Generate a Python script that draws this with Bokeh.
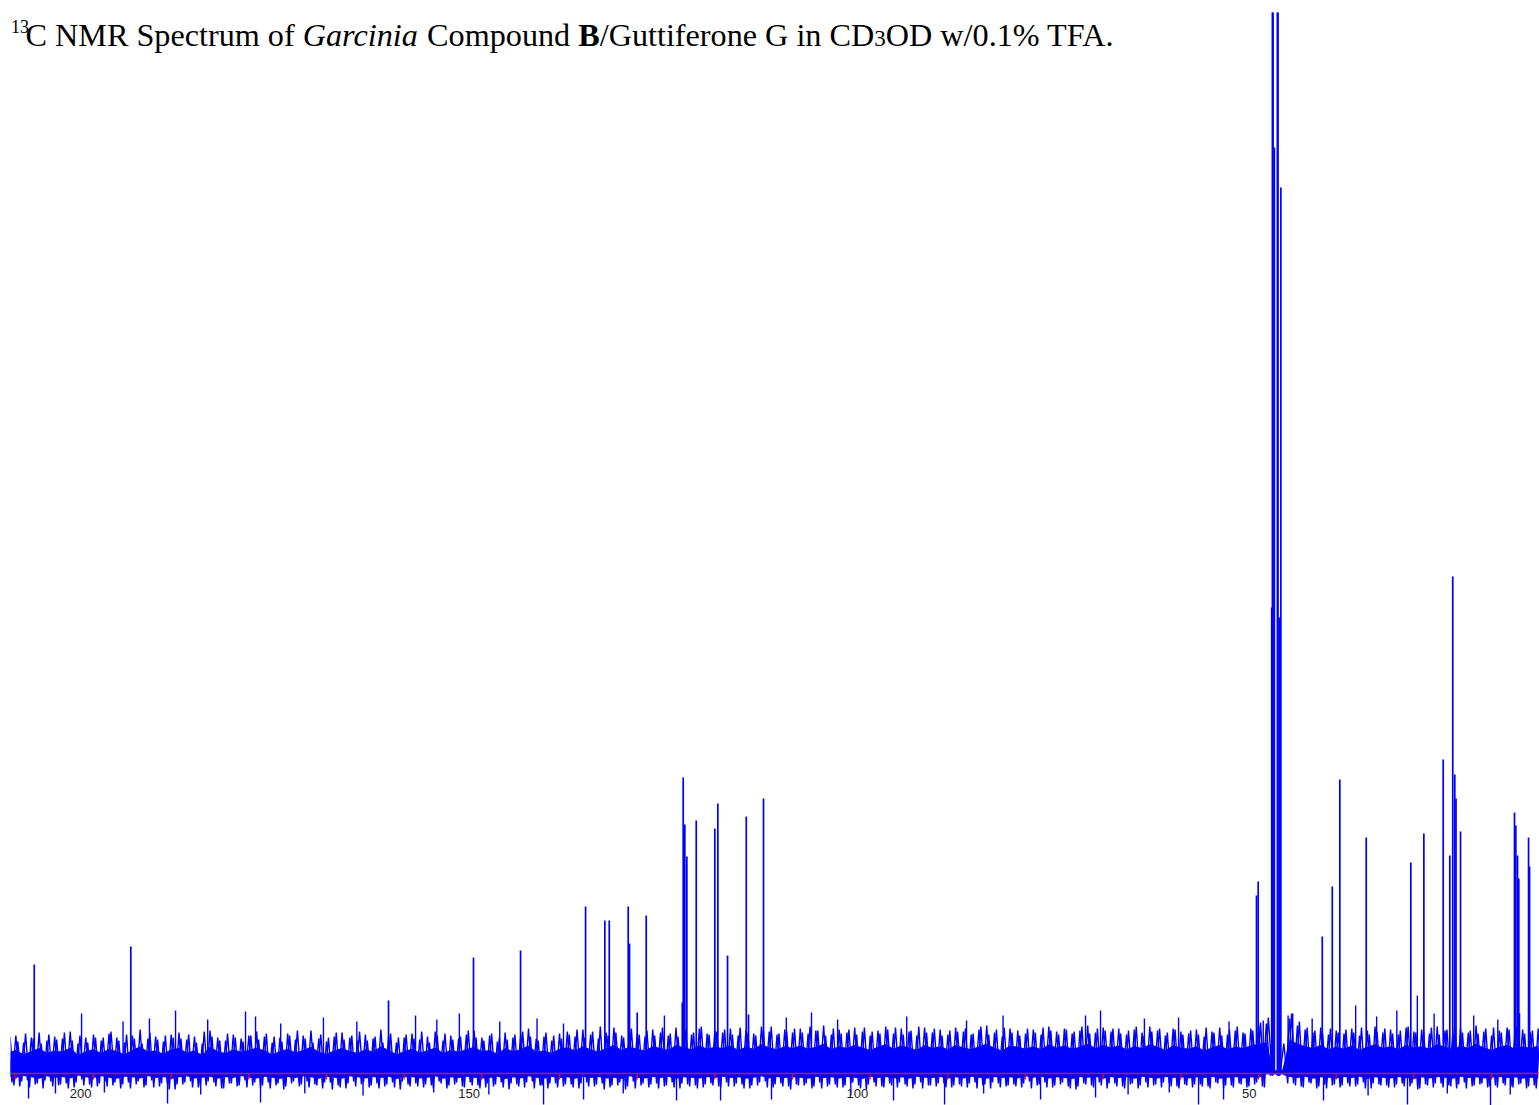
from bokeh.plotting import figure
from bokeh.models import Range1d, Span, Label, ColumnDataSource
from bokeh.embed import file_html
from bokeh.resources import INLINE
from bokeh.core.properties import value

# ---------------- data (chemical shift in ppm, intensity in arbitrary units) ----------------
peak_ppm = [207.63, 195.20, 162.02, 151.08, 145.02, 136.65, 134.17, 133.60, 131.16, 130.99,
            130.00, 128.84, 124.20, 124.08, 123.87, 123.61, 122.40, 120.01, 119.62, 118.37,
            115.96, 115.67, 113.74, 50.27, 50.05,
            48.31, 48.22, 48.14, 47.97, 47.58, 47.50, 47.33, 47.13,
            41.80, 40.51, 39.54, 36.14, 30.40, 28.72, 26.23, 25.38, 25.00, 24.74,
            24.58, 24.00, 17.05, 16.88, 16.66, 16.50, 15.24, 15.11]
peak_int = [109, 127, 73, 116, 123, 167, 153, 153, 167, 130,
            61, 158, 71, 296, 249, 217, 253, 245, 270, 118,
            257, 59, 275, 178, 192,
            466, 1300, 1300, 926, 1300, 1300, 456, 886,
            137, 187, 294, 236, 211, 240, 314, 218, 497, 299,
            275, 242, 261, 248, 218, 195, 236, 207]

# baseline noise extremes, one up/down pair per ppm (set A from 211 ppm, set B offset by 0.25 ppm)
noise_ppm = list(range(211, 13, -1))
noise_hi = [34, 38, 31, 36, 41, 33, 37, 35, 42, 30, 36, 39,
            33, 40, 36, 31, 38, 44, 35, 37, 32, 39,
            41, 34, 37, 30, 43, 36, 33, 39, 35, 38,
            42, 37, 31, 36, 40, 34, 38, 43, 35, 32,
            37, 41, 36, 33, 39, 35, 44, 38, 31, 36,
            40, 34, 37, 42, 33, 38, 35, 39, 43, 36,
            38, 32, 41, 36, 39, 45, 35, 37, 33, 40,
            42, 37, 44, 39, 35, 41, 46, 38, 43, 40,
            37, 44, 41, 38, 46, 42, 39, 45, 40, 43,
            41, 45, 38, 43, 40, 47, 42, 39, 44, 41,
            45, 40, 43, 48, 39, 44, 41, 46, 42, 38,
            43, 47, 40, 45, 42, 38, 46, 41, 44, 39,
            46, 42, 39, 44, 48, 41, 37, 45, 43, 40,
            44, 39, 47, 42, 45, 40, 43, 48, 41, 46,
            42, 45, 39, 44, 41, 47, 43, 38, 45, 42,
            40, 44, 37, 42, 46, 39, 43, 41, 45, 48,
            50, 3, 3, 55, 48, 44, 41, 46, 39, 43,
            40, 45, 38, 43, 47, 41, 44, 39, 46, 42,
            44, 40, 47, 43, 39, 45, 41, 48, 42, 38,
            43, 46, 40, 44, 41, 45]
noise_lo = [-9, -13, -7, -11, -15, -8, -12, -10, -14, -6, -11, -13,
            -8, -12, -15, -9, -11, -14, -7, -13, -10, -16,
            -11, -8, -14, -12, -9, -15, -10, -13, -7, -12,
            -14, -9, -12, -16, -10, -13, -8, -11, -15, -9,
            -12, -15, -8, -11, -14, -10, -13, -9, -16, -11,
            -10, -14, -12, -8, -15, -11, -13, -9, -12, -14,
            -13, -9, -16, -11, -14, -8, -12, -15, -10, -13,
            -11, -15, -9, -13, -10, -14, -12, -16, -8, -12,
            -14, -10, -13, -9, -15, -11, -12, -14, -10, -13,
            -9, -13, -11, -15, -12, -8, -14, -10, -13, -11,
            -12, -15, -9, -13, -11, -14, -10, -12, -16, -9,
            -13, -10, -14, -11, -15, -9, -12, -13, -10, -14,
            -11, -14, -9, -12, -15, -10, -13, -11, -14, -8,
            -12, -9, -14, -11, -13, -16, -10, -12, -9, -15,
            -10, -13, -11, -15, -9, -12, -14, -10, -13, -11,
            -14, -11, -13, -9, -15, -12, -10, -14, -11, -13,
            -2, -2, -2, -10, -13, -9, -15, -11, -12, -14,
            -10, -13, -9, -15, -11, -12, -14, -10, -13, -16,
            -11, -14, -10, -12, -15, -9, -13, -11, -14, -12,
            -10, -13, -11, -15, -12, -14]
noise_hi_b = [37, 32, 40, 35, 30, 39, 34, 41, 33, 38, 31, 36,
              36, 42, 33, 39, 35, 30, 41, 34, 38, 36,
              35, 39, 31, 42, 37, 33, 40, 36, 32, 38,
              34, 40, 37, 32, 38, 43, 35, 31, 39, 36,
              41, 34, 38, 42, 33, 37, 31, 40, 36, 39,
              35, 42, 31, 38, 40, 34, 37, 43, 36, 33,
              40, 36, 34, 39, 42, 37, 33, 41, 38, 35,
              39, 44, 36, 42, 47, 38, 41, 36, 45, 39,
              43, 38, 46, 40, 37, 44, 41, 47, 39, 42,
              44, 39, 46, 41, 38, 43, 47, 40, 42, 45,
              41, 47, 43, 38, 45, 40, 44, 39, 46, 42,
              40, 44, 46, 39, 43, 47, 41, 45, 38, 43,
              42, 45, 40, 47, 39, 44, 46, 41, 38, 45,
              41, 46, 43, 39, 44, 42, 47, 40, 45, 43,
              45, 40, 43, 47, 38, 42, 45, 41, 44, 39,
              43, 39, 46, 41, 38, 44, 47, 40, 43, 51,
              56, 3, 30, 60, 52, 46, 43, 40, 45, 41,
              44, 41, 46, 39, 42, 45, 40, 43, 47, 41,
              42, 46, 39, 44, 47, 41, 43, 40, 45, 46,
              41, 44, 47, 40, 43, 42]
noise_lo_b = [-12, -8, -14, -10, -7, -13, -11, -15, -9, -12, -14, -10,
              -13, -9, -11, -15, -8, -12, -14, -10, -16, -11,
              -9, -14, -12, -8, -13, -15, -10, -12, -14, -9,
              -12, -15, -10, -13, -8, -11, -14, -12, -9, -16,
              -14, -10, -13, -9, -12, -15, -11, -14, -8, -13,
              -13, -11, -15, -10, -12, -9, -14, -12, -15, -10,
              -11, -14, -10, -13, -9, -15, -12, -10, -14, -11,
              -14, -10, -13, -11, -16, -12, -9, -13, -15, -10,
              -11, -15, -12, -14, -10, -13, -15, -11, -12, -14,
              -13, -10, -15, -12, -9, -14, -11, -13, -16, -12,
              -10, -13, -15, -11, -14, -12, -9, -15, -11, -13,
              -14, -12, -9, -13, -11, -15, -12, -10, -14, -12,
              -13, -10, -15, -11, -9, -14, -12, -13, -10, -15,
              -11, -14, -12, -9, -15, -13, -11, -14, -12, -10,
              -13, -15, -10, -12, -14, -11, -9, -13, -15, -12,
              -11, -13, -15, -10, -12, -14, -11, -13, -9, -14,
              -2, -2, -10, -12, -14, -10, -13, -15, -11, -12,
              -13, -11, -15, -10, -12, -14, -11, -13, -10, -15,
              -12, -10, -14, -13, -11, -15, -12, -10, -13, -14,
              -12, -14, -10, -13, -15, -11]

# isolated noise spikes rising above / dropping below the band
spike_up_ppm = [201.54, 196.2, 192.8, 189.44, 185.3, 180.43, 179.14, 175.9, 170.4, 166.1,
                158.54, 155.8, 152.9, 147.7, 142.9, 139.49, 126.5, 110.8, 107.56, 104.2,
                95.3, 87.6, 82.9, 72.28, 70.35, 64.7, 60.3, 53.8, 49.4, 46.2,
                45.6, 43.1, 37.5, 34.8, 32.2, 29.56, 27.4, 22.3, 19.2, 16.4]
spike_up_int = [60, 52, 55, 63, 54, 62, 57, 50, 56, 52,
                58, 54, 60, 52, 55, 50, 58, 56, 61, 54,
                57, 53, 58, 58, 63, 55, 56, 52, 53, 58,
                60, 55, 68, 57, 63, 78, 60, 58, 54, 60]
spike_dn_ppm = [208.37, 204.9, 198.6, 190.47, 186.2, 178.50, 172.8, 165.3, 156.2, 149.1,
                142.06, 136.91, 131.8, 124.94, 119.27, 112.71, 102.5, 97.00, 90.43, 85.4,
                78.07, 70.99, 66.8, 61.5, 57.73, 54.51, 41.64, 35.9, 30.83, 25.7,
                20.14, 17.6]
spike_dn_int = [-25, -20, -19, -30, -21, -29, -20, -22, -19, -21,
                -31, -26, -20, -27, -27, -26, -22, -27, -31, -20,
                -26, -24, -21, -19, -31, -26, -27, -22, -31, -20,
                -32, -21]

# axis ticks (ppm)
tick_ppm = [210, 200, 190, 180, 170, 160, 150, 140, 130, 120, 110, 100, 90, 80, 70, 60, 50, 40, 30, 20]
label_ppm = [200, 150, 100, 50]
label_text = ["200", "150", "100", "50"]

# ---------------- layout ----------------
PX_PER_PPM = 7.767
FRAME_LEFT, FRAME_TOP = 10, 12
W, H = 1539, 1105
X_START = 210.69
X_END = X_START - (W - FRAME_LEFT) / PX_PER_PPM
Y_END = 1061
Y_START = Y_END - (H - FRAME_TOP)

BLUE = "#0000FF"

p = figure(width=W, height=H,
           x_range=Range1d(X_START, X_END), y_range=Range1d(Y_START, Y_END),
           output_backend="svg", toolbar_location=None,
           x_axis_location=None, y_axis_location=None,
           min_border_left=FRAME_LEFT, min_border_right=0,
           min_border_top=FRAME_TOP, min_border_bottom=0)
p.outline_line_color = None
p.grid.visible = False
p.background_fill_color = "white"
p.border_fill_color = "white"

# dense core of the noise band (drawn from the same read extremes, pulled toward the centre)
core_lo = [0.35 * v for v in noise_lo]
core_hi = [0.62 * v for v in noise_hi]
p.varea(x=noise_ppm, y1=core_lo, y2=core_hi, fill_color=BLUE, fill_alpha=1.0)

# noise: two interleaved zig-zag traces through the read extremes
xa, ya, xb, yb = [], [], [], []
for i, c in enumerate(noise_ppm):
    xa += [c, c - 0.5]
    ya += [noise_hi[i], noise_lo[i]]
    xb += [c - 0.25, c - 0.75]
    yb += [noise_hi_b[i], noise_lo_b[i]]
p.line(x=xa, y=ya, line_color=BLUE, line_width=1.4)
p.line(x=xb, y=yb, line_color=BLUE, line_width=1.4)

p.segment(x0=spike_up_ppm, y0=[10] * len(spike_up_ppm), x1=spike_up_ppm, y1=spike_up_int,
          line_color=BLUE, line_width=1.4)
p.segment(x0=spike_dn_ppm, y0=[10] * len(spike_dn_ppm), x1=spike_dn_ppm, y1=spike_dn_int,
          line_color=BLUE, line_width=1.4)

# peaks
p.segment(x0=peak_ppm, y0=[0] * len(peak_ppm), x1=peak_ppm, y1=peak_int,
          line_color=BLUE, line_width=1.7)

# red baseline axis with ticks
p.add_layout(Span(location=0, dimension="width", line_color="#FF0000", line_width=1.5))
p.segment(x0=tick_ppm, y0=[0] * len(tick_ppm), x1=tick_ppm, y1=[-6] * len(tick_ppm),
          line_color="#FF0000", line_width=1.2)
lab_src = ColumnDataSource(dict(x=label_ppm, y=[-20] * len(label_ppm), t=label_text))
p.text(x="x", y="y", text="t", source=lab_src, text_align="right", text_baseline="alphabetic",
       x_offset=-2, text_font=value("Liberation Sans"), text_font_size="13px",
       text_color="#222222")

# ---------------- title (rich text pieces) ----------------
W_REG = {' ': 250, 'C': 667, 'N': 722, 'M': 889, 'R': 667, 'S': 556, 'p': 500, 'e': 444,
         'c': 444, 't': 278, 'r': 333, 'u': 500, 'm': 778, 'o': 500, 'f': 333, 'G': 722,
         'i': 278, 'n': 500, 'd': 500, 'D': 722, 'O': 722, 'w': 722, '/': 278, '0': 500,
         '.': 250, '1': 500, '%': 833, 'T': 611, 'F': 556, 'A': 722, '3': 500}
W_IT = {'G': 722, 'a': 500, 'r': 389, 'c': 444, 'i': 278, 'n': 500}
W_BD = {'B': 667}


def width(s, table, fs):
    return sum(table.get(ch, 500) for ch in s) / 1000.0 * fs


def px2ppm(px):
    return X_START - (px - FRAME_LEFT) / PX_PER_PPM


def py2u(py):
    return Y_END - (py - FRAME_TOP)


FS = 32.2
BASE = 34
pieces = [("C NMR Spectrum of ", "normal", W_REG, FS, 0),
          ("Garcinia", "italic", W_IT, FS, 0),
          (" Compound ", "normal", W_REG, FS, 0),
          ("B", "bold", W_BD, FS, 0),
          ("/Guttiferone G in CD", "normal", W_REG, FS, 0),
          ("3", "normal", W_REG, 23, 4),
          ("OD w/0.1% TFA.", "normal", W_REG, FS, 0)]

p.add_layout(Label(x=px2ppm(10.5), y=py2u(25.5), text="13", text_font="Liberation Serif",
                   text_font_size="18px", text_color="black", text_baseline="alphabetic"))
xpos = 25.0
for txt, style, table, fs, dy in pieces:
    lead = len(txt) - len(txt.lstrip(" "))
    start = xpos + width(txt[:lead], table, fs)
    p.add_layout(Label(x=px2ppm(start), y=py2u(BASE + dy), text=txt.strip(" "),
                       text_font="Liberation Serif", text_font_size=f"{fs}px",
                       text_font_style=style, text_color="black",
                       text_baseline="alphabetic"))
    xpos += width(txt, table, fs)

open("out.html", "w").write(file_html(p, INLINE))
